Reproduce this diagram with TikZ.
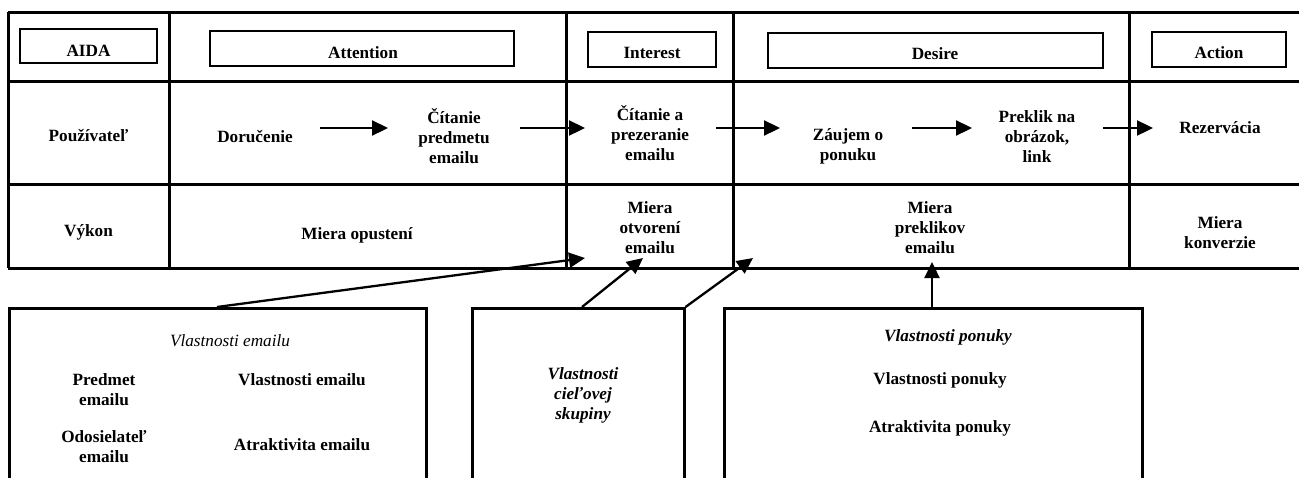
\documentclass[tikz,border=0pt]{standalone}
\usepackage{fontspec}
\setmainfont{Liberation Serif}
\usetikzlibrary{arrows.meta}
\begin{document}
\begin{tikzpicture}[x=1pt,y=-1pt,
  txt/.style={font=\fontsize{17.2}{20}\selectfont\bfseries, align=center, inner sep=0pt},
  itxt/.style={font=\fontsize{17.2}{20}\selectfont\bfseries\itshape, align=center, inner sep=0pt},
  itx/.style={font=\fontsize{17.2}{20}\selectfont\itshape, align=center, inner sep=0pt},
  gridline/.style={line width=3pt},
  hbox/.style={draw, line width=2pt, inner sep=0pt},
  bbox/.style={draw, line width=2.5pt, inner sep=0pt, anchor=north west},
  arr/.style={line width=2.3pt, -{Triangle[length=16pt,width=15pt]}},
]
\useasboundingbox (0,0) rectangle (1299,477);
\fill[white] (0,0) rectangle (1299,477);
\begin{scope}
\clip (0,0) rectangle (1299,477);
% table grid
\draw[gridline] (8,12) -- (1310,12);
\draw[gridline] (8,81) -- (1310,81);
\draw[gridline] (8,184) -- (1310,184);
\draw[gridline] (8,268) -- (1310,268);
\foreach \xx in {8,169,566,733,1129} \draw[gridline] (\xx,12) -- (\xx,268);

% header boxes
\node[hbox, minimum width=137pt, minimum height=34pt] (haida) at (88.5,46) {};
\node[hbox, minimum width=304pt, minimum height=35pt] (hatt) at (362,48.5) {};
\node[hbox, minimum width=128pt, minimum height=35pt] (hint) at (652,49.5) {};
\node[hbox, minimum width=335pt, minimum height=35pt] (hdes) at (935.5,50.5) {};
\node[hbox, minimum width=134pt, minimum height=35pt] (hact) at (1219,49.5) {};
\node[txt] (taida) at (88.5,51) {AIDA};
\node[txt] (tatt) at (363,53) {Attention};
\node[txt] (tint) at (652,53) {Interest};
\node[txt] (tdes) at (935,54) {Desire};
\node[txt] (tact) at (1219,53) {Action};

% row 2
\node[txt] (pouz) at (88.5,136) {Používateľ};
\node[txt] (doru) at (255,137) {Doručenie};
\node[txt] (cit1) at (454,136) {Čítanie\\predmetu\\emailu};
\node[txt] (cit2) at (650,133) {Čítanie a\\prezeranie\\emailu};
\node[txt] (zauj) at (848,146) {Záujem o\\ponuku};
\node[txt] (prek) at (1037,137) {Preklik na\\obrázok,\\link};
\node[txt] (rez) at (1220,128) {Rezervácia};

\coordinate (a1s) at (320,128); \coordinate (a1e) at (388,128);
\coordinate (a2s) at (520,128); \coordinate (a2e) at (585,128);
\coordinate (a3s) at (716,128); \coordinate (a3e) at (780,128);
\coordinate (a4s) at (912,128); \coordinate (a4e) at (972,128);
\coordinate (a5s) at (1103,128); \coordinate (a5e) at (1153,128);
\draw[arr] (a1s) -- (a1e);
\draw[arr] (a2s) -- (a2e);
\draw[arr] (a3s) -- (a3e);
\draw[arr] (a4s) -- (a4e);
\draw[arr] (a5s) -- (a5e);

% row 3
\node[txt] (vykon) at (88.5,232) {Výkon};
\node[txt] (mopu) at (357,235) {Miera opustení};
\node[txt] (motv) at (650,228) {Miera\\otvorení\\emailu};
\node[txt] (mpre) at (930,228) {Miera\\preklikov\\emailu};
\node[txt] (mkon) at (1220,233) {Miera\\konverzie};

% bottom boxes
\node[bbox, minimum width=417pt, minimum height=200pt] (b1) at (8,307) {};
\node[bbox, minimum width=212pt, minimum height=200pt] (b2) at (471,307) {};
\node[bbox, minimum width=418pt, minimum height=200pt] (b3) at (723,307) {};

\node[itx] (b1t) at (230,341) {Vlastnosti emailu};
\node[txt] (b1a) at (104,390) {Predmet\\emailu};
\node[txt] (b1b) at (302,380) {Vlastnosti emailu};
\node[txt] (b1c) at (104,447) {Odosielateľ\\emailu};
\node[txt] (b1d) at (302,445) {Atraktivita emailu};

\node[itxt] (b2t) at (583,395) {Vlastnosti\\cieľovej\\skupiny};

\node[itxt] (b3t) at (948,337) {Vlastnosti ponuky};
\node[txt] (b3a) at (940,380) {Vlastnosti ponuky};
\node[txt] (b3b) at (940,428) {Atraktivita ponuky};

% arrows from bottom boxes
\coordinate (cA) at (217,307); \coordinate (tA) at (585,258);
\coordinate (cB) at (582,307); \coordinate (tB) at (643,258);
\coordinate (tC) at (753,258);
\coordinate (tD) at (932,262);
\draw[arr] (cA) -- (tA);
\draw[arr] (cB) -- (tB);
\draw[arr] (b2.north east) -- (tC);
\draw[arr] (b3.north -| tD) -- (tD);
\end{scope}
\end{tikzpicture}
\end{document}
